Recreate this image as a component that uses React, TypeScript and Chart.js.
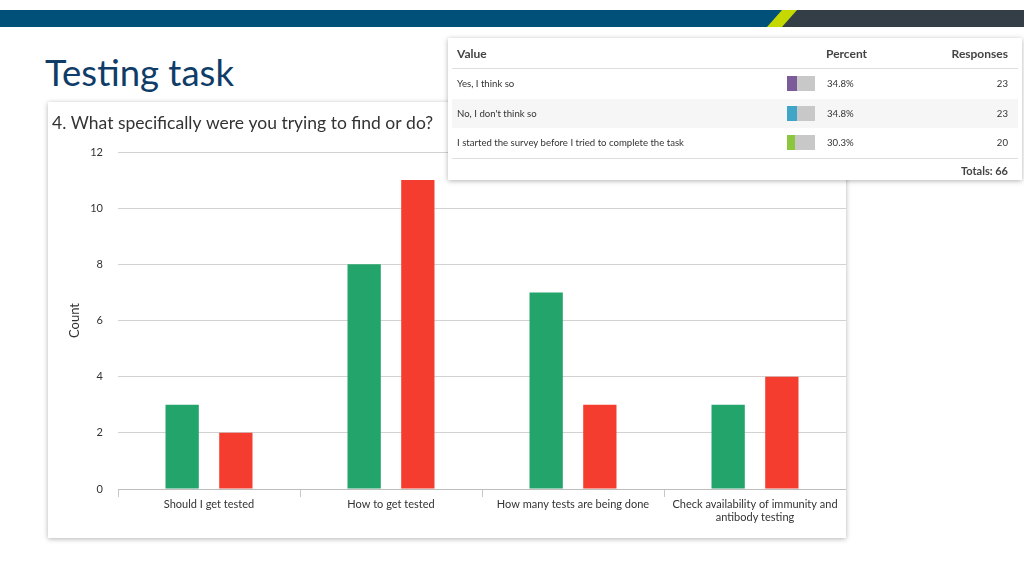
import React, { useEffect, useRef } from "react";
import { Chart, registerables } from "chart.js";

Chart.register(...registerables);

const categories: string[][] = [
  ["Should I get tested"],
  ["How to get tested"],
  ["How many tests are being done"],
  ["Check availability of immunity and", "antibody testing"],
];
const greenValues = [3, 8, 7, 3];
const redValues = [2, 11, 3, 4];
const yMax = 12;
const yStep = 2;

const tableValues = ["Yes, I think so", "No, I don't think so", "I started the survey before I tried to complete the task"];
const tablePercents = [34.8, 34.8, 30.3];
const tableResponses = [23, 23, 20];
const tableColors = ["#7b5b9a", "#3fa6c8", "#8cc63f"];
const tableTotal = 66;

const FONT = "Lato, 'Open Sans', sans-serif";

function BarChart() {
  const ref = useRef<HTMLCanvasElement | null>(null);
  useEffect(() => {
    if (!ref.current) return;
    const chart = new Chart(ref.current, {
      type: "bar",
      data: {
        labels: categories,
        datasets: [
          { label: "A", data: greenValues, backgroundColor: "#23a46b", categoryPercentage: 0.59, barPercentage: 0.62 },
          { label: "B", data: redValues, backgroundColor: "#f43c2f", categoryPercentage: 0.59, barPercentage: 0.62 },
        ],
      },
      options: {
        responsive: false,
        animation: false,
        layout: { padding: { left: 4, right: 0, top: 0, bottom: 0 } },
        plugins: {
          legend: { display: false },
          tooltip: { enabled: false },
          title: {
            display: true,
            text: "4. What specifically were you trying to find or do?",
            align: "start",
            color: "#333333",
            font: { family: FONT, size: 17.5, weight: "normal" },
            padding: { top: 11, bottom: 18 },
          },
        },
        scales: {
          x: {
            grid: { drawOnChartArea: false, drawTicks: true, tickLength: 8, color: "#c8c8c8", offset: true },
            border: { display: true, color: "#bdbdbd" },
            ticks: { color: "#333333", font: { family: FONT, size: 11 }, padding: 1, maxRotation: 0, autoSkip: false },
            afterFit: (s: any) => { s.height = 49; },
          },
          y: {
            min: 0,
            max: yMax,
            ticks: { stepSize: yStep, color: "#333333", font: { family: FONT, size: 11 }, padding: 15 },
            grid: { color: "#d2d2d2", drawTicks: false },
            border: { display: false },
            title: { display: true, text: "Count", color: "#333333", font: { family: FONT, size: 13 }, padding: { top: 15, bottom: 0 } },
            afterFit: (s: any) => { s.width = 66; },
          },
        },
      } as any,
    });
    return () => chart.destroy();
  }, []);
  return <canvas ref={ref} width={798} height={436} style={{ display: "block" }} />;
}

export default function App() {
  return (
    <div style={{ position: "fixed", left: 0, top: 0, width: 1024, height: 576, background: "#fff", overflow: "hidden", fontFamily: FONT }}>
      <svg width={1024} height={30} style={{ position: "absolute", left: 0, top: 0 }}>
        <rect x={0} y={10} width={1024} height={17} fill="#00507a" />
        <polygon points="782,27 797,10 1024,10 1024,27" fill="#343e47" />
        <polygon points="767,27 782,10 797,10 782,27" fill="#c5d800" />
      </svg>
      <div style={{ position: "absolute", left: 45, top: 50, fontSize: 36.5, color: "#0f3d68", lineHeight: "44px", whiteSpace: "nowrap" }}>
        Testing task
      </div>
      <div style={{ position: "absolute", left: 48, top: 102, width: 798, height: 436, background: "#fff", boxShadow: "0 1px 5px rgba(0,0,0,0.3)" }}>
        <BarChart />
      </div>
      <div style={{ position: "absolute", left: 448, top: 38, width: 574, height: 142, background: "#fff", boxShadow: "0 1px 5px rgba(0,0,0,0.3)", color: "#333", fontSize: 9.6 }}>
        <div style={{ position: "absolute", left: 4, right: 4, top: 0, height: 30, borderBottom: "1px solid #dedede" }}>
          <span style={{ position: "absolute", left: 5, top: 8, fontSize: 12, fontWeight: 700, color: "#444" }}>Value</span>
          <span style={{ position: "absolute", left: 374, top: 8, fontSize: 12, fontWeight: 700, color: "#444" }}>Percent</span>
          <span style={{ position: "absolute", right: 10, top: 8, fontSize: 12, fontWeight: 700, color: "#444" }}>Responses</span>
        </div>
        {tableValues.map((v, i) => (
          <div key={v} style={{ position: "absolute", left: 4, right: 4, top: 31 + i * 29.5, height: 29.5, background: i === 1 ? "#f6f6f6" : "#fff" }}>
            <span style={{ position: "absolute", left: 5, top: 9 }}>{v}</span>
            <div style={{ position: "absolute", left: 335, top: 7, width: 28, height: 15, background: "#c8c8c8" }}>
              <div style={{ width: (28 * tablePercents[i]) / 100, height: 15, background: tableColors[i] }} />
            </div>
            <span style={{ position: "absolute", left: 375, top: 9 }}>{tablePercents[i].toFixed(1)}%</span>
            <span style={{ position: "absolute", right: 10, top: 9 }}>{tableResponses[i]}</span>
          </div>
        ))}
        <div style={{ position: "absolute", left: 4, right: 4, top: 120, borderTop: "1px solid #dedede" }}>
          <span style={{ position: "absolute", right: 10, top: 5, fontSize: 11, fontWeight: 700, color: "#444" }}>Totals: {tableTotal}</span>
        </div>
      </div>
    </div>
  );
}
